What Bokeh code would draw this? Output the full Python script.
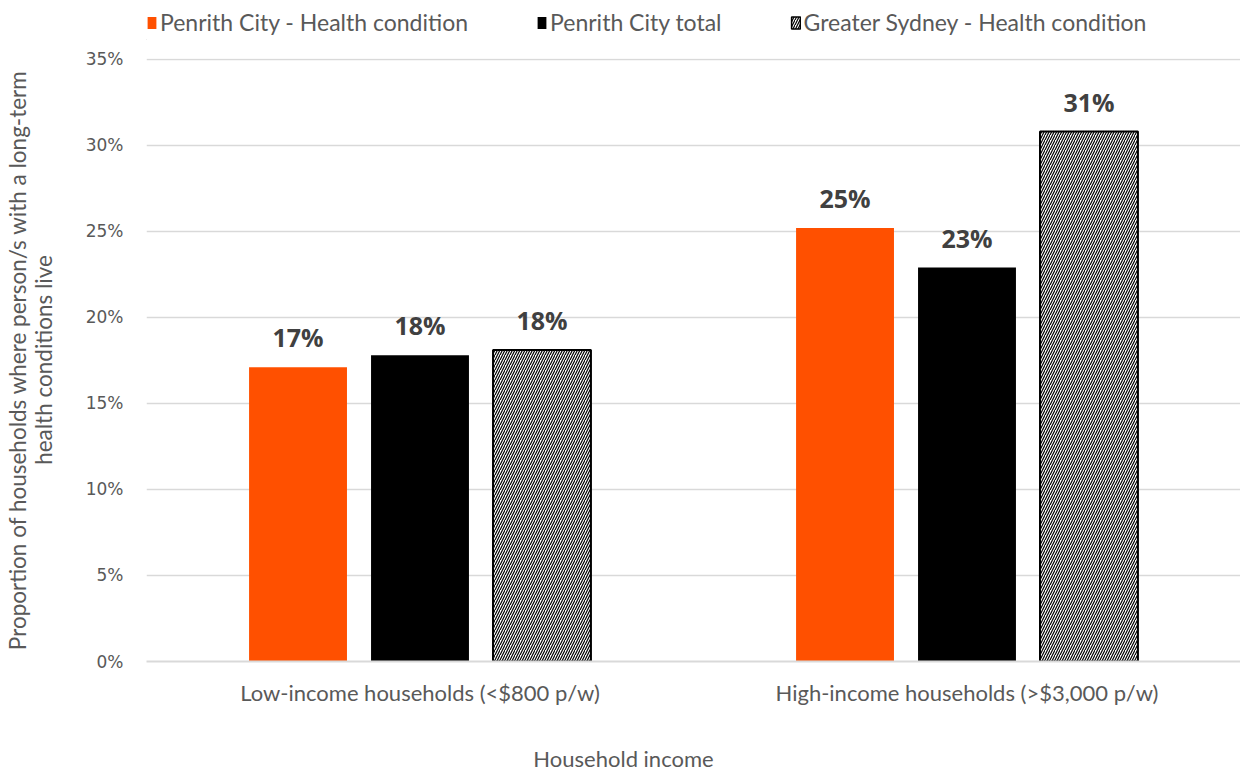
import math
from bokeh.plotting import figure
from bokeh.layouts import column
from bokeh.models import (ColumnDataSource, FactorRange, Range1d, LabelSet, Legend, Label,
                          LegendItem, NumeralTickFormatter, FixedTicker, LinearAxis)
from bokeh.core.properties import value
from bokeh.transform import dodge
from bokeh.embed import file_html
from bokeh.resources import INLINE

categories = ["Low-income households (<$800 p/w)", "High-income households (>$3,000 p/w)"]
series_names = ["Penrith City - Health condition", "Penrith City total", "Greater Sydney - Health condition"]
series_colors = ["#FF5000", "#000000", "white"]
penrith_health = [0.171, 0.252]
penrith_total = [0.178, 0.229]
sydney_health = [0.181, 0.308]
y_ticks = [0.0, 0.05, 0.10, 0.15, 0.20, 0.25, 0.30, 0.35]
y_label_lines = ["Proportion of households where person/s with a long-term",
                 "health conditions live"]
x_title = "Household income"

def lab(vals):
    return ["%d%%" % round(v * 100) for v in vals]

src = ColumnDataSource(dict(
    cat=categories,
    ph=penrith_health, pt=penrith_total, sh=sydney_health,
    ph_l=lab(penrith_health), pt_l=lab(penrith_total), sh_l=lab(sydney_health),
))

NARROW = "Lato"
GREY = "#595959"
W = 1240
LEFT = 146
TOP_H = 40
MAIN_H = 683
BOT_H = 774 - TOP_H - MAIN_H

HATCH = dict(hatch_pattern="/", hatch_color="black", hatch_scale=5, hatch_weight=1.2)

def strip_fig(h):
    # frame spans page x LEFT..W, data units = page pixels
    f = figure(width=W, height=h, x_range=Range1d(LEFT, W), y_range=Range1d(0, h),
               output_backend="svg", toolbar_location=None, x_axis_type=None, y_axis_type=None,
               min_border_left=LEFT, min_border_right=0, min_border_top=0, min_border_bottom=0)
    f.outline_line_color = None
    f.xgrid.visible = False
    f.ygrid.visible = False
    return f

# ---------- legend strip (legend proxies: zero-size bars outside the view) ----------
lf = strip_fig(TOP_H)
proxy = ColumnDataSource(dict(x=[0], top=[0]))
g1 = lf.vbar(x="x", top="top", width=0, source=proxy,
             fill_color=series_colors[0], line_color=None)
g2 = lf.vbar(x="x", top="top", width=0, source=proxy,
             fill_color=series_colors[1], line_color=None)
g3 = lf.vbar(x="x", top="top", width=0, source=proxy,
             fill_color=series_colors[2], line_color="black", line_width=1.5, **HATCH)
legend = Legend(items=[LegendItem(label=series_names[0], renderers=[g1]),
                       LegendItem(label=series_names[1], renderers=[g2]),
                       LegendItem(label=series_names[2], renderers=[g3])],
                orientation="horizontal", location=(0, 4),
                label_text_font=NARROW, label_text_font_size="23px", label_text_color=GREY,
                glyph_width=11, glyph_height=15, label_standoff=3, spacing=68,
                border_line_color=None, background_fill_alpha=0, padding=0, margin=0)
lf.add_layout(legend, "center")

# ---------- main chart ----------
p = figure(width=W, height=MAIN_H, x_range=FactorRange(*categories),
           y_range=Range1d(0, 0.3505), output_backend="svg", toolbar_location=None,
           min_border_left=LEFT, min_border_right=0, min_border_top=18, min_border_bottom=62)
p.x_range.range_padding = 0.0
p.outline_line_color = None
p.background_fill_color = "white"

off = 0.223
w = 0.179
p.vbar(x=dodge("cat", -off, range=p.x_range), top="ph", width=w, source=src,
       fill_color=series_colors[0], line_color=None)
p.vbar(x=dodge("cat", 0.0, range=p.x_range), top="pt", width=w, source=src,
       fill_color=series_colors[1], line_color=None)
p.vbar(x=dodge("cat", off, range=p.x_range), top="sh", width=w, source=src,
       fill_color=series_colors[2], line_color="black", line_width=2, **HATCH)

for col, lcol, dx in (("ph", "ph_l", -off), ("pt", "pt_l", 0.0), ("sh", "sh_l", off)):
    ls = LabelSet(x=dodge("cat", dx, range=p.x_range), y=col, text=lcol, source=src,
                  text_align="center", text_baseline="alphabetic", y_offset=20,
                  text_font=value("Open Sans"), text_font_style="bold",
                  text_font_size=value("25px"), text_color="#404040")
    p.add_layout(ls)

p.yaxis.ticker = FixedTicker(ticks=y_ticks)
p.yaxis.formatter = NumeralTickFormatter(format="0%")
p.yaxis.major_label_text_font = "DejaVu Sans"
p.yaxis.major_label_text_font_size = "17px"
p.yaxis.major_label_text_color = GREY
p.yaxis.major_label_standoff = 17
p.yaxis.axis_line_color = None
p.yaxis.major_tick_line_color = None
p.yaxis.minor_tick_line_color = None
p.yaxis.axis_label = y_label_lines[1]
p.yaxis.axis_label_text_font = NARROW
p.yaxis.axis_label_text_font_size = "22.5px"
p.yaxis.axis_label_text_font_style = "normal"
p.yaxis.axis_label_text_color = GREY
p.yaxis.axis_label_standoff = 26

outer = LinearAxis(ticker=FixedTicker(ticks=[]), axis_label=y_label_lines[0],
                   axis_line_color=None, major_tick_line_color=None, minor_tick_line_color=None,
                   major_label_text_font_size="0px",
                   axis_label_text_font=NARROW, axis_label_text_font_size="22.5px",
                   axis_label_text_font_style="normal", axis_label_text_color=GREY,
                   axis_label_standoff=-4)
p.add_layout(outer, "left")

p.xaxis.axis_line_color = "#d9d9d9"
p.xaxis.axis_line_width = 2
p.xaxis.major_tick_line_color = None
p.xaxis.minor_tick_line_color = None
p.xaxis.major_label_text_font = NARROW
p.xaxis.major_label_text_font_size = "22px"
p.xaxis.major_label_text_color = GREY
p.xaxis.major_label_standoff = 11

p.xgrid.grid_line_color = None
p.ygrid.grid_line_color = "#d9d9d9"
p.ygrid.grid_line_width = 1.5

# ---------- x title strip ----------
tf = strip_fig(BOT_H)
tf.add_layout(Label(x=623, y=16, text=x_title, text_align="center", text_baseline="middle",
                    text_font=NARROW, text_font_size="22px", text_color=GREY))

layout = column(lf, p, tf, spacing=0)
open("out.html", "w").write(file_html(layout, INLINE))
